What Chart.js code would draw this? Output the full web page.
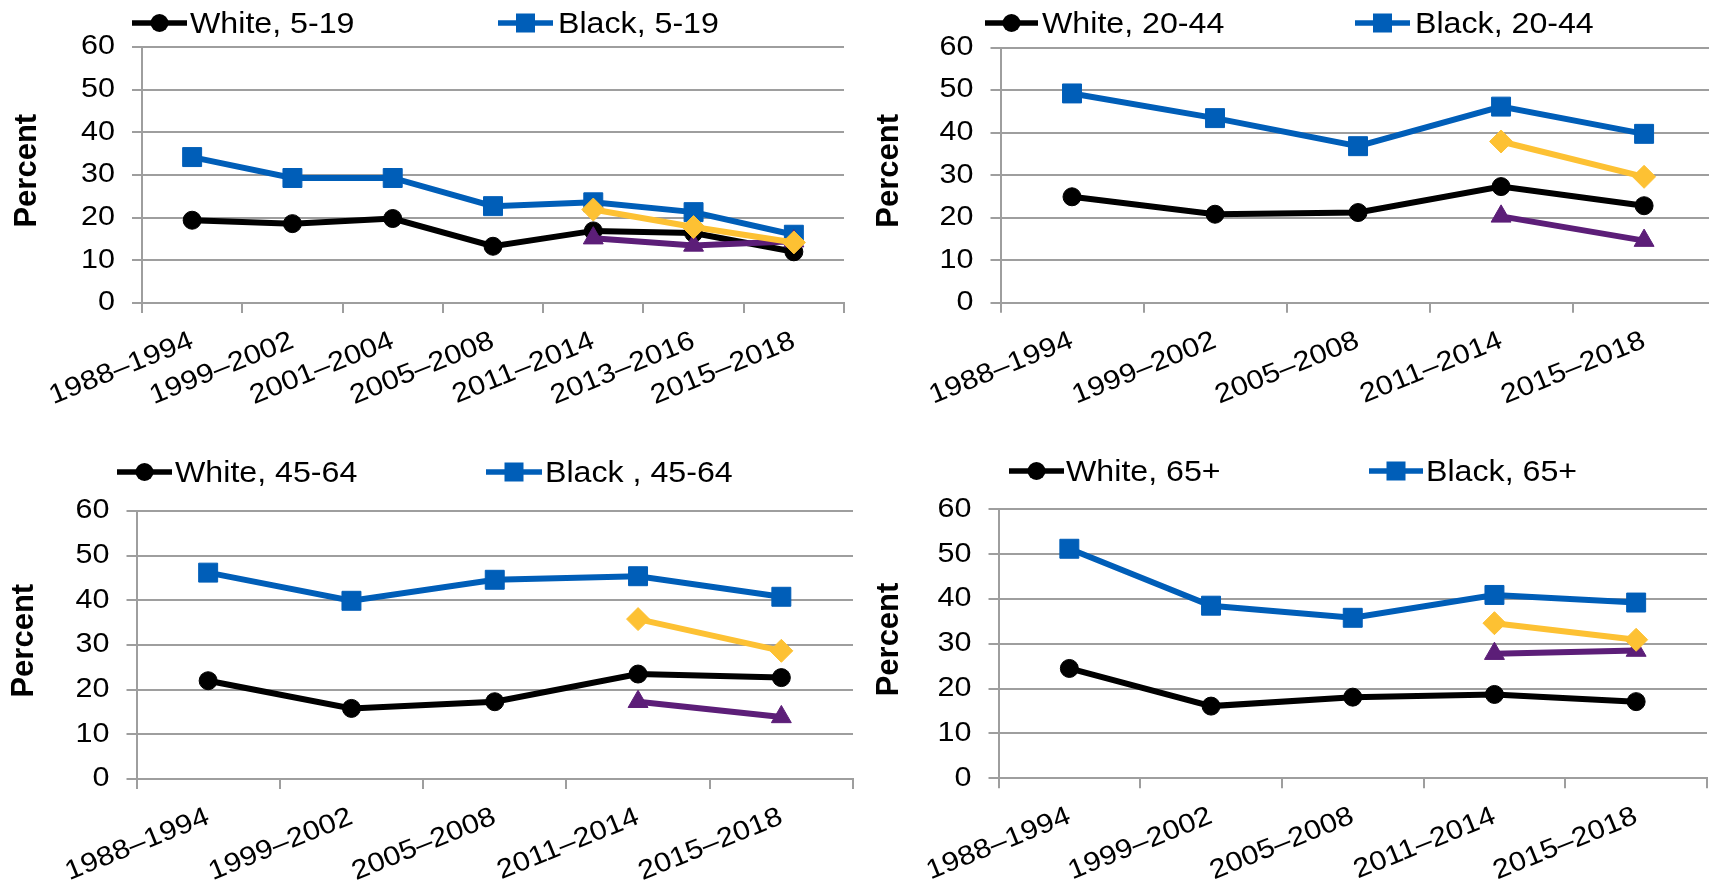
<!DOCTYPE html>
<html>
<head>
<meta charset="utf-8">
<script src="https://cdn.jsdelivr.net/npm/chart.js@4.4.1/dist/chart.umd.min.js"></script>
<style>
  html, body { margin: 0; padding: 0; background: #fff; }
  body { width: 1709px; height: 886px; overflow: hidden; position: relative;
         font-family: 'Liberation Sans', Arial, sans-serif; }
  canvas { position: absolute; }
  .sym { position: absolute; display: block; }
  .legtxt { position: absolute; font-size: 29.5px; line-height: 34px; color: #000; white-space: nowrap;
            transform: scaleX(1.09); transform-origin: 0 50%; }
</style>
</head>
<body>
<script>
// Survey periods on the x axis
const periods7 = ['1988–1994', '1999–2002', '2001–2004', '2005–2008', '2011–2014', '2013–2016', '2015–2018'];
const periods5 = ['1988–1994', '1999–2002', '2005–2008', '2011–2014', '2015–2018'];

// Y axis ticks (percent)
const yMin = 0;
const yMax = 60;
const yStep = 10;

// Ages 5-19
const white519  = [19.4, 18.6, 19.8, 13.3, 16.9, 16.4, 12.0];
const black519  = [34.2, 29.3, 29.3, 22.7, 23.6, 21.3, 16.0];
const gold519   = [null, null, null, null, 21.9, 17.8, 14.2];
const purple519 = [null, null, null, null, 15.2, 13.5, 14.5];

// Ages 20-44
const white2044  = [24.9, 20.8, 21.2, 27.3, 22.8];
const black2044  = [49.2, 43.4, 36.8, 46.1, 39.7];
const gold2044   = [null, null, null, 37.9, 29.6];
const purple2044 = [null, null, null, 20.3, 14.6];

// Ages 45-64
const white4564  = [22.0, 15.8, 17.3, 23.5, 22.7];
const black4564  = [46.2, 39.9, 44.6, 45.4, 40.8];
const gold4564   = [null, null, null, 35.8, 28.7];
const purple4564 = [null, null, null, 17.3, 13.9];

// Ages 65+
const white65  = [24.5, 16.1, 18.1, 18.7, 17.1];
const black65  = [51.2, 38.5, 35.8, 40.9, 39.2];
const gold65   = [null, null, null, 34.6, 30.9];
const purple65 = [null, null, null, 27.8, 28.5];

// Legend texts
const legendTexts = [
  ['White, 5-19', 'Black, 5-19'],
  ['White, 20-44', 'Black, 20-44'],
  ['White, 45-64', 'Black , 45-64'],
  ['White, 65+', 'Black, 65+']
];

const BLACK = '#000000';
const BLUE = '#005EB8';
const GOLD = '#FDC133';
const PURPLE = '#5C1E78';
const GRID = '#9E9E9E';
const TICK_STRETCH = 1.13;   // wide tick-label lettering

Chart.defaults.font.family = "'Liberation Sans', Arial, sans-serif";
Chart.defaults.color = '#000';

function line(data, color, style, radius) {
  return {
    data: data,
    borderColor: color,
    backgroundColor: color,
    borderWidth: 6,
    pointStyle: style,
    pointRadius: radius,
    pointHoverRadius: radius,
    pointBorderWidth: 1,
    pointBorderColor: color,
    pointBackgroundColor: color,
    tension: 0,
    spanGaps: false
  };
}

// Tick labels are drawn horizontally widened around their anchor point
function widenTickText(ctx) {
  const orig = ctx.fillText.bind(ctx);
  ctx.fillText = function (t, x, y, mw) {
    if (/bold/.test(ctx.font)) {
      return mw === undefined ? orig(t, x, y) : orig(t, x, y, mw);
    }
    ctx.save();
    ctx.translate(x, y);
    ctx.scale(TICK_STRETCH, 1);
    if (mw === undefined) orig(t, 0, 0); else orig(t, 0, 0, mw / TICK_STRETCH);
    ctx.restore();
  };
}

function panel(p) {
  const c = document.createElement('canvas');
  c.width = p.w; c.height = p.h;
  c.style.left = p.x + 'px'; c.style.top = p.y + 'px';
  c.style.width = p.w + 'px'; c.style.height = p.h + 'px';
  document.body.appendChild(c);
  const ctx = c.getContext('2d');
  widenTickText(ctx);
  new Chart(ctx, {
    type: 'line',
    data: {
      labels: p.labels,
      // first dataset is painted last (on top)
      datasets: [
        line(p.gold, GOLD, 'rectRot', 11.5),
        line(p.purple, PURPLE, 'triangle', 11.5),
        line(p.black, BLUE, 'rect', 13.4),
        line(p.white, BLACK, 'circle', 9)
      ]
    },
    options: {
      animation: false,
      responsive: false,
      devicePixelRatio: 1,
      events: [],
      layout: { padding: { top: p.padTop, right: p.padRight, left: 0, bottom: 0 } },
      plugins: { legend: { display: false }, tooltip: { enabled: false } },
      scales: {
        x: {
          type: 'category',
          offset: true,
          grid: { offset: true, drawOnChartArea: false, drawTicks: true, tickLength: 10, color: GRID, lineWidth: 2 },
          border: { color: GRID, width: 2 },
          ticks: { autoSkip: false, minRotation: 22, maxRotation: 22, padding: 12, color: '#000', font: { size: 27 } },
          afterFit(s) { s.height = p.xh; }
        },
        y: {
          min: yMin, max: yMax,
          ticks: { stepSize: yStep, padding: 17, color: '#000', font: { size: 27 } },
          grid: { color: GRID, lineWidth: 2, tickLength: 10 },
          border: { color: GRID, width: 2 },
          title: { display: true, text: ' Percent', color: '#000', font: { size: 31, weight: 'bold' },
                   padding: { top: p.titlePad, bottom: 0 } },
          afterFit(s) { s.width = p.yw; }
        }
      }
    }
  });
}

function legendSymbol(x1, x2, yc, color, marker) {
  const ns = 'http://www.w3.org/2000/svg';
  const w = x2 - x1, h = 26;
  const svg = document.createElementNS(ns, 'svg');
  svg.setAttribute('width', w); svg.setAttribute('height', h);
  svg.setAttribute('class', 'sym');
  svg.style.left = x1 + 'px'; svg.style.top = (yc - h / 2) + 'px';
  const ln = document.createElementNS(ns, 'line');
  ln.setAttribute('x1', 0); ln.setAttribute('x2', w);
  ln.setAttribute('y1', h / 2); ln.setAttribute('y2', h / 2);
  ln.setAttribute('stroke', color); ln.setAttribute('stroke-width', 5.5);
  ln.setAttribute('stroke-linecap', 'round');
  svg.appendChild(ln);
  let m;
  if (marker === 'circle') {
    m = document.createElementNS(ns, 'circle');
    m.setAttribute('cx', w / 2); m.setAttribute('cy', h / 2); m.setAttribute('r', 9);
  } else {
    m = document.createElementNS(ns, 'rect');
    m.setAttribute('x', w / 2 - 9.5); m.setAttribute('y', h / 2 - 9.5);
    m.setAttribute('width', 19); m.setAttribute('height', 19);
  }
  m.setAttribute('fill', color);
  svg.appendChild(m);
  document.body.appendChild(svg);
}

function legendText(x, yc, text) {
  const d = document.createElement('div');
  d.className = 'legtxt';
  d.style.left = x + 'px'; d.style.top = (yc - 17) + 'px';
  d.textContent = text;
  document.body.appendChild(d);
}

function legend(items) {
  items.forEach(it => {
    legendSymbol(it.s1, it.s2, it.yc, it.color, it.marker);
    legendText(it.tx, it.yc, it.text);
  });
}

// Top-left: ages 5-19
panel({ x: 0, y: 0, w: 870, h: 413, padTop: 47, padRight: 26, yw: 142, xh: 110, titlePad: 9,
        labels: periods7, white: white519, black: black519, gold: gold519, purple: purple519 });
// Top-right: ages 20-44
panel({ x: 854, y: 0, w: 876, h: 413, padTop: 47.5, padRight: 10, yw: 146.5, xh: 110.3, titlePad: 17,
        labels: periods5, white: white2044, black: black2044, gold: gold2044, purple: purple2044 });
// Bottom-left: ages 45-64
panel({ x: 0, y: 440, w: 870, h: 446, padTop: 71, padRight: 17, yw: 136.5, xh: 107, titlePad: 6,
        labels: periods5, white: white4564, black: black4564, gold: gold4564, purple: purple4564 });
// Bottom-right: ages 65+
panel({ x: 854, y: 440, w: 870, h: 446, padTop: 69.3, padRight: 17, yw: 144.5, xh: 107.7, titlePad: 17,
        labels: periods5, white: white65, black: black65, gold: gold65, purple: purple65 });

legend([
  { s1: 132, s2: 187, yc: 23, color: BLACK, marker: 'circle', tx: 190, text: legendTexts[0][0] },
  { s1: 498, s2: 553, yc: 23, color: BLUE, marker: 'rect', tx: 558, text: legendTexts[0][1] },
  { s1: 985, s2: 1038, yc: 23, color: BLACK, marker: 'circle', tx: 1042, text: legendTexts[1][0] },
  { s1: 1355, s2: 1410, yc: 23, color: BLUE, marker: 'rect', tx: 1415, text: legendTexts[1][1] },
  { s1: 117, s2: 172, yc: 471.5, color: BLACK, marker: 'circle', tx: 175, text: legendTexts[2][0] },
  { s1: 486, s2: 542, yc: 471.5, color: BLUE, marker: 'rect', tx: 545, text: legendTexts[2][1] },
  { s1: 1009, s2: 1064, yc: 470.7, color: BLACK, marker: 'circle', tx: 1066, text: legendTexts[3][0] },
  { s1: 1369, s2: 1423, yc: 470.7, color: BLUE, marker: 'rect', tx: 1426, text: legendTexts[3][1] }
]);
</script>
</body>
</html>
